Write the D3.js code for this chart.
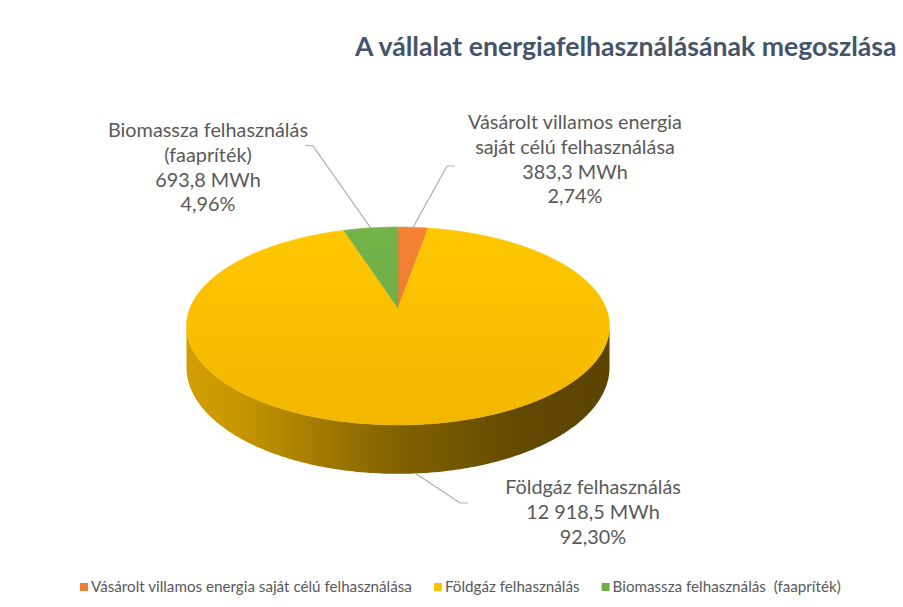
<!DOCTYPE html>
<html><head><meta charset="utf-8">
<script src="https://cdn.jsdelivr.net/npm/d3@7"></script>
<style>html,body{margin:0;padding:0;background:#fff;}svg{display:block;}</style>
</head><body>
<script>
// ---- DATA ----
const title = "A vállalat energiafelhasználásának megoszlása";
const categories = ["Vásárolt villamos energia saját célú felhasználása", "Földgáz felhasználás", "Biomassza felhasználás  (faapríték)"];
const values = [383.3, 12918.5, 693.8];
const labelNames = [["Vásárolt villamos energia", "saját célú felhasználása"], ["Földgáz felhasználás"], ["Biomassza felhasználás", "(faapríték)"]];
const unit = "MWh";
const colors = ["#ED7D31", "#FFC000", "#70AD47"];

// ---- SETUP ----
const W = 903, H = 607;
const svg = d3.select("body").append("svg").attr("width", W).attr("height", H);
const defs = svg.append("defs");
const hu = d3.formatLocale({decimal: ",", thousands: " ", grouping: [3], currency: ["", ""]});
const fmtVal = hu.format(",.1f"), fmtPct = hu.format(".2%");
const total = d3.sum(values);

// perspective projection of the pie disk
const cx = 398, cy0 = 308, a = 95.7, b = 208, k = -0.1818, d0 = 40;
function proj(t, r = 1) {
  const X = r * Math.sin(t), Z = -r * Math.cos(t), s = 1 / (1 + k * Z);
  return [cx + b * X * s, cy0 + a * Z * s];
}
function depth(t) { const Z = -Math.cos(t); return d0 / (1 + k * Z); }
function arcPts(t0, t1) {
  const n = Math.max(2, Math.ceil((t1 - t0) / 0.01));
  return d3.range(n + 1).map(i => t0 + (t1 - t0) * i / n);
}

const pie = d3.pie().sort(null).startAngle(0).endAngle(2 * Math.PI).value(d => d);
const arcs = pie(values);

// silhouette angles
const samp = d3.range(0, 2 * Math.PI, 0.002);
const tR = samp[d3.maxIndex(samp, t => proj(t)[0])];
const tL = samp[d3.minIndex(samp, t => proj(t)[0])];
const yTop = proj(0)[1], yBot = proj(Math.PI)[1];
const xL = proj(tL)[0], xR = proj(tR)[0];

const line = d3.line();

// ---- SIDES ----
arcs.forEach((d, i) => {
  const s0 = Math.max(d.startAngle, tR), s1 = Math.min(d.endAngle, tL);
  if (s1 <= s0) return;
  const c = d3.color(colors[i]);
  const g = defs.append("linearGradient").attr("id", "side" + i)
    .attr("gradientUnits", "userSpaceOnUse").attr("x1", xL).attr("x2", xR).attr("y1", 0).attr("y2", 0);
  [[0, 0.55], [0.12, 0.7], [0.5, 1.9], [0.8, 2.7], [1, 2.9]].forEach(([o, t]) =>
    g.append("stop").attr("offset", o).attr("stop-color", c.darker(t).formatHex()));
  const ts = arcPts(s0, s1);
  const top = ts.map(t => proj(t));
  const bot = ts.map(t => { const p = proj(t); return [p[0], p[1] + depth(t)]; }).reverse();
  svg.append("path").attr("d", line(top.concat(bot)) + "Z").attr("fill", "url(#side" + i + ")");
});

// ---- TOP FACES ----
arcs.forEach((d, i) => {
  const c = d3.color(colors[i]);
  const g = defs.append("linearGradient").attr("id", "top" + i)
    .attr("gradientUnits", "userSpaceOnUse").attr("x1", 0).attr("x2", 0).attr("y1", yTop).attr("y2", yBot);
  g.append("stop").attr("offset", 0).attr("stop-color", c.brighter(0.1).formatHex());
  g.append("stop").attr("offset", 1).attr("stop-color", c.darker(0.15).formatHex());
  const pts = [[cx, cy0]].concat(arcPts(d.startAngle, d.endAngle).map(t => proj(t)));
  svg.append("path").attr("d", line(pts) + "Z").attr("fill", "url(#top" + i + ")")
    .attr("stroke", "url(#top" + i + ")").attr("stroke-width", 0.5);
});

// ---- TITLE ----
const titleT = svg.append("text").attr("x", 355).attr("y", 56)
  .attr("font-family", "Lato, 'Open Sans', sans-serif").attr("font-weight", "bold")
  .attr("font-size", 25).attr("fill", "#44546A").text(title);
const tw = titleT.node().getComputedTextLength();
titleT.attr("font-size", 25 * 542 / tw);

// ---- DATA LABELS ----
const labelLayout = [
  {x: 575, y: 129, elbow: [447, 166], end: [455, 166]},
  {x: 593, y: 494, elbow: [460, 503], end: [468, 503], bottom: true},
  {x: 208, y: 137, elbow: [313, 146], end: [305, 145]}
];
const labelFont = "Lato, 'Open Sans', sans-serif";
// size labels so a reference line matches reference width
const probe = svg.append("text").attr("font-family", labelFont).attr("font-size", 20).text(labelNames[0][0]);
const lfs = 20 * 214 / probe.node().getComputedTextLength();
probe.text(categories[0]).attr("font-size", 14);
const legFs = 14 * 321 / probe.node().getComputedTextLength();
probe.remove();
const lineH = 24.8;

arcs.forEach((d, i) => {
  const L = labelLayout[i];
  const mid = (d.startAngle + d.endAngle) / 2;
  const p = proj(mid);
  const start = L.bottom ? [p[0], p[1] + depth(mid)] : p;
  svg.append("path").attr("d", line([start, L.elbow, L.end])).attr("fill", "none")
    .attr("stroke", "#A9ADB3").attr("stroke-width", 1.2);
  const lines = labelNames[i].concat([fmtVal(values[i]) + " " + unit, fmtPct(values[i] / total)]);
  const t = svg.append("text").attr("font-family", labelFont).attr("font-size", lfs)
    .attr("fill", "#595959").attr("text-anchor", "middle");
  lines.forEach((s, j) => t.append("tspan").attr("x", L.x).attr("y", L.y + j * lineH).text(s));
});

// ---- LEGEND ----
let lx = 80;
const ly = 587;
categories.forEach((c, i) => {
  svg.append("rect").attr("x", lx).attr("y", ly - 4).attr("width", 8).attr("height", 8).attr("fill", colors[i]);
  const t = svg.append("text").attr("x", lx + 11).attr("y", ly + 5).attr("font-family", labelFont)
    .attr("font-size", legFs).attr("fill", "#595959").style("white-space", "pre").text(c);
  lx += 11 + t.node().getComputedTextLength() + 22;
});
</script>
</body></html>
